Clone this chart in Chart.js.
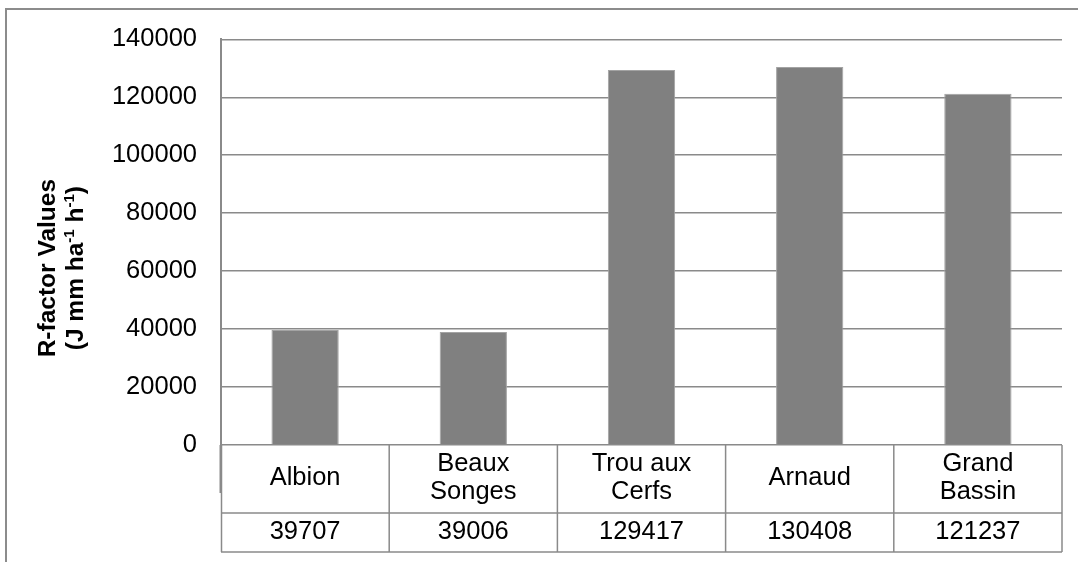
<!DOCTYPE html>
<html><head><meta charset="utf-8">
<script src="https://cdn.jsdelivr.net/npm/chart.js@4.4.0/dist/chart.umd.min.js"></script>
<style>html,body{margin:0;padding:0;background:#fff;} canvas{display:block;}</style>
</head><body>
<canvas id="c" width="1078" height="562"></canvas>
<script>
// ---- data ----
const categoryLines = [['Albion'], ['Beaux', 'Songes'], ['Trou aux', 'Cerfs'], ['Arnaud'], ['Grand', 'Bassin']];
const categories = categoryLines.map(l => l.join(' '));
const rFactorValues = [39707, 39006, 129417, 130408, 121237];
const yMin = 0, yMax = 140000, yStep = 20000;
const yTitleLine1 = 'R-factor Values';
const yTitleLine2 = [
  { t: '(J mm ha' }, { t: '-1', sup: true }, { t: ' h' }, { t: '-1', sup: true }, { t: ')' }
];

const FONT = "'Liberation Sans', Arial, sans-serif";
const GRID = '#8a8a8a';

const tablePlugin = {
  id: 'tablePlugin',
  beforeDraw(chart) {
    const ctx = chart.ctx;
    ctx.save();
    ctx.fillStyle = '#fff';
    ctx.fillRect(0, 0, chart.width, chart.height);
    ctx.restore();
  },
  afterDraw(chart) {
    const ctx = chart.ctx;
    const a = chart.chartArea;
    const xs = chart.scales.x;
    const n = categories.length;
    const w = (a.right - a.left) / n;
    const row1Top = a.bottom, row1Bot = a.bottom + 68, row2Bot = a.bottom + 107;
    ctx.save();
    // outer border
    ctx.strokeStyle = '#8c8c8c';
    ctx.lineWidth = 2;
    ctx.strokeRect(6, 9, 1200, 700);
    // axis extension
    ctx.strokeStyle = GRID;
    ctx.lineWidth = 2;
    ctx.beginPath();
    ctx.moveTo(a.left - 0.5, a.bottom);
    ctx.lineTo(a.left - 0.5, a.bottom + 48);
    ctx.stroke();
    // table lines
    ctx.lineWidth = 1.5;
    ctx.beginPath();
    for (let i = 0; i <= n; i++) {
      const x = a.left + i * w + (i === 0 ? 0.5 : 0);
      ctx.moveTo(x, row1Top);
      ctx.lineTo(x, row2Bot);
    }
    ctx.moveTo(a.left, row1Bot); ctx.lineTo(a.right, row1Bot);
    ctx.moveTo(a.left, row2Bot); ctx.lineTo(a.right, row2Bot);
    ctx.stroke();
    // texts
    ctx.fillStyle = '#000';
    ctx.font = '25.5px ' + FONT;
    ctx.textAlign = 'center';
    ctx.textBaseline = 'middle';
    for (let i = 0; i < n; i++) {
      const cx = xs.getPixelForValue(i);
      const lines = categoryLines[i];
      const cy = row1Top + 33;
      lines.forEach((ln, k) => {
        ctx.fillText(ln, cx, cy + (k - (lines.length - 1) / 2) * 28);
      });
      ctx.fillText(String(rFactorValues[i]), cx, row1Bot + 19);
    }
    // y title
    const cyT = (a.top + a.bottom + 48) / 2 + 2;
    ctx.translate(0, cyT);
    ctx.rotate(-Math.PI / 2);
    ctx.textBaseline = 'alphabetic';
    ctx.font = 'bold 24.5px ' + FONT;
    ctx.textAlign = 'center';
    ctx.fillText(yTitleLine1, 0, 55);
    // line 2 with superscripts
    ctx.textAlign = 'left';
    const fontN = 'bold 24.5px ' + FONT, fontS = 'bold 15px ' + FONT;
    let total = 0;
    yTitleLine2.forEach(s => { ctx.font = s.sup ? fontS : fontN; total += ctx.measureText(s.t).width; });
    let x = -total / 2;
    yTitleLine2.forEach(s => {
      ctx.font = s.sup ? fontS : fontN;
      ctx.fillText(s.t, x, s.sup ? 83 - 9 : 83);
      x += ctx.measureText(s.t).width;
    });
    ctx.restore();
  }
};

new Chart(document.getElementById('c'), {
  type: 'bar',
  data: {
    labels: categories,
    datasets: [{
      label: 'R-factor',
      data: rFactorValues,
      backgroundColor: '#808080',
      borderColor: '#a3a3a3',
      borderWidth: 1,
      categoryPercentage: 1,
      barPercentage: 0.4
    }]
  },
  options: {
    responsive: false,
    animation: false,
    layout: { padding: { top: 39, right: 16, bottom: 117, left: 0 } },
    plugins: { legend: { display: false }, tooltip: { enabled: false }, title: { display: false } },
    scales: {
      x: { display: false, offset: true },
      y: {
        min: yMin, max: yMax,
        afterFit(scale) { scale.width = 221; },
        ticks: { stepSize: yStep, padding: 24, color: '#000', font: { family: FONT, size: 25.5 },
                 callback: v => String(v) },
        grid: { color: GRID, lineWidth: 1.5, drawTicks: false },
        border: { display: true, color: GRID, width: 2 }
      }
    }
  },
  plugins: [tablePlugin]
});
</script>
</body></html>
